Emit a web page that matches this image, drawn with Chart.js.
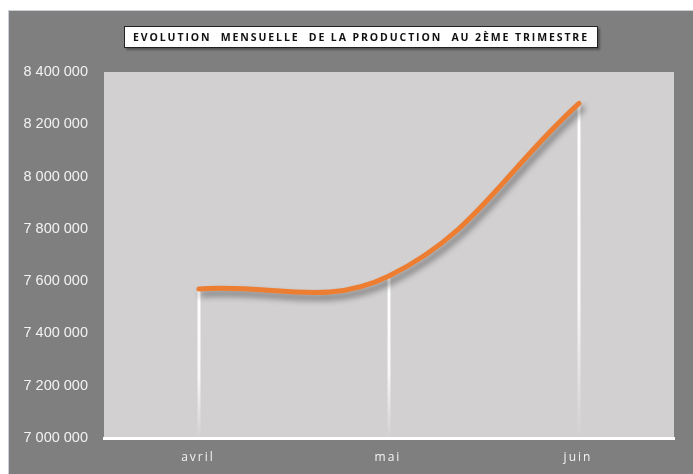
<!DOCTYPE html>
<html>
<head>
<meta charset="utf-8">
<script src="https://cdn.jsdelivr.net/npm/chart.js@4"></script>
<style>
  html, body { margin: 0; padding: 0; background: #fff; }
  body { width: 693px; height: 474px; overflow: hidden; position: relative; }
  #frame {
    position: absolute; left: 8px; top: 10px; width: 685px; height: 464px;
    background: #7f7f7f; border-left: 1px solid #c9ced6; border-top: 1px solid #c9ced6;
  }
  #title {
    position: absolute; left: 115px; top: 15px; width: 472px; height: 20px;
    background: #fff; border: 1px solid #222; box-shadow: 2px 2px 2px rgba(0,0,0,0.35);
    font: bold 10.5px "Open Sans", sans-serif; letter-spacing: 1.9px; color: #111;
    text-align: center; line-height: 20px; white-space: pre;
  }
  #wrap { position: absolute; left: 0; top: 0; width: 685px; height: 464px; }
</style>
</head>
<body>
<div id="frame">
  <div id="wrap"><canvas id="myChart"></canvas></div>
  <div id="title">EVOLUTION  MENSUELLE  DE LA PRODUCTION  AU 2ÈME TRIMESTRE</div>
</div>
<script>
const months = ['avril', 'mai', 'juin'];
const production = [7570000, 7620000, 8280000];
const yMin = 7000000;
const yMax = 8400000;
const yStep = 200000;

const formatNumber = v => String(v).replace(/\B(?=(\d{3})+(?!\d))/g, ' ');

// plot background + drop lines + spaced month labels
const decor = {
  id: 'decor',
  beforeDraw(chart) {
    const { ctx, chartArea: a } = chart;
    ctx.save();
    ctx.fillStyle = '#d2d0d1';
    ctx.fillRect(a.left, a.top, a.right - a.left, a.bottom - a.top);
    ctx.restore();
  },
  beforeDatasetsDraw(chart) {
    const { ctx, chartArea: a, scales } = chart;
    ctx.save();
    production.forEach((v, i) => {
      const x = scales.x.getPixelForValue(i);
      const y = scales.y.getPixelForValue(v);
      const g = ctx.createLinearGradient(0, y, 0, a.bottom);
      g.addColorStop(0, 'rgba(255,255,255,1)');
      g.addColorStop(0.6, 'rgba(255,255,255,0.85)');
      g.addColorStop(1, 'rgba(255,255,255,0)');
      ctx.strokeStyle = g;
      ctx.lineWidth = 3;
      ctx.beginPath();
      ctx.moveTo(x, y);
      ctx.lineTo(x, a.bottom - 2);
      ctx.stroke();
    });
    ctx.restore();
  },
  beforeDatasetDraw(chart) {
    const ctx = chart.ctx;
    ctx.save();
    ctx.shadowColor = 'rgba(0,0,0,0.45)';
    ctx.shadowBlur = 6;
    ctx.shadowOffsetX = 3;
    ctx.shadowOffsetY = 5;
  },
  afterDatasetDraw(chart) {
    chart.ctx.restore();
  },
  afterDraw(chart) {
    const { ctx, scales } = chart;
    ctx.save();
    ctx.font = '12px "Open Sans", sans-serif';
    ctx.letterSpacing = '2px';
    ctx.fillStyle = '#f4f4f4';
    ctx.textAlign = 'center';
    ctx.textBaseline = 'middle';
    chart.data.labels.forEach((l, i) => {
      ctx.fillText(l, scales.x.getPixelForTick(i) - 1, 447);
    });
    ctx.restore();
  }
};

new Chart(document.getElementById('myChart'), {
  type: 'line',
  data: {
    labels: months,
    datasets: [{
      data: production,
      borderColor: '#ed7d31',
      borderWidth: 5,
      borderCapStyle: 'round',
      tension: 0.4,
      pointRadius: 0,
      fill: false
    }]
  },
  options: {
    responsive: true,
    maintainAspectRatio: false,
    animation: false,
    layout: { padding: { top: 61, right: 20, left: 0, bottom: 0 } },
    plugins: { legend: { display: false }, tooltip: { enabled: false } },
    scales: {
      x: {
        offset: true,
        grid: { display: false },
        border: { display: true, color: '#ffffff', width: 3 },
        ticks: { display: false },
        afterFit(scale) { scale.height = 37; }
      },
      y: {
        min: yMin,
        max: yMax,
        grid: { display: false, drawTicks: false },
        border: { display: false },
        ticks: {
          stepSize: yStep,
          padding: 16,
          color: '#f2f2f2',
          font: { family: '"Liberation Sans", Arial, sans-serif', size: 14.5 },
          callback: v => formatNumber(v)
        },
        afterFit(scale) { scale.width = 95; }
      }
    }
  },
  plugins: [decor]
});
</script>
</body>
</html>
